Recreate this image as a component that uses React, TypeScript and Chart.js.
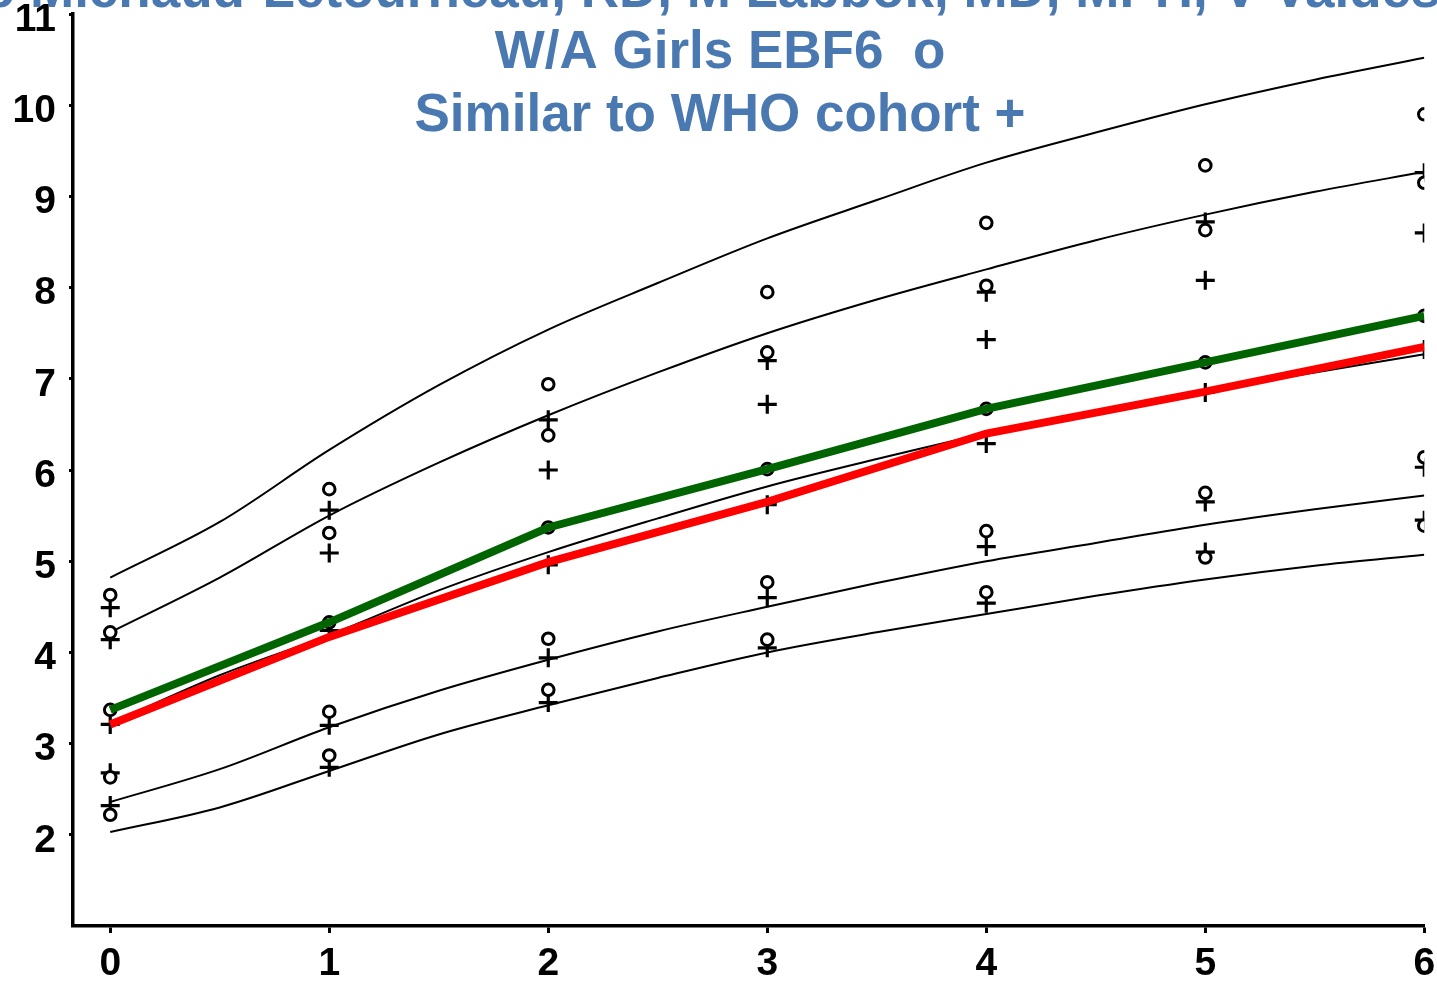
import React, { useEffect, useRef } from 'react';
import { Chart, registerables } from 'chart.js';

Chart.register(...registerables);

// ---- data (weight in kg by age in months) ----
const months = [0, 1, 2, 3, 4, 5, 6];
const curveMonths = [0, 0.5, 1, 1.5, 2, 2.5, 3, 3.5, 4, 4.5, 5, 5.5, 6];

// WHO reference curves (thin black)
const whoPlus3SD = [4.82, 5.43, 6.22, 6.93, 7.54, 8.05, 8.54, 8.96, 9.37, 9.70, 10.01, 10.28, 10.52];
const whoPlus2SD = [4.22, 4.82, 5.50, 6.08, 6.60, 7.07, 7.50, 7.87, 8.20, 8.52, 8.80, 9.05, 9.27];
const whoMedian = [3.22, 3.75, 4.19, 4.68, 5.10, 5.47, 5.82, 6.12, 6.40, 6.65, 6.87, 7.07, 7.27];
const whoMinus2SD = [2.36, 2.72, 3.18, 3.58, 3.92, 4.23, 4.50, 4.76, 5.00, 5.20, 5.40, 5.57, 5.72];
const whoMinus3SD = [2.03, 2.30, 2.70, 3.10, 3.42, 3.72, 4.00, 4.22, 4.42, 4.62, 4.80, 4.95, 5.07];

// EBF6 cohort (circles)
const ebfTop = [4.63, 5.79, 6.94, 7.95, 8.71, 9.34, 9.90];
const ebfHigh = [4.22, 5.31, 6.38, 7.29, 8.02, 8.63, 9.15];
const ebfMid = [3.37, 4.33, 5.37, 6.01, 6.67, 7.18, 7.69];
const ebfLow = [2.63, 3.35, 4.15, 4.77, 5.33, 5.75, 6.14];
const ebfBottom = [2.22, 2.87, 3.59, 4.14, 4.66, 5.04, 5.39];

// Similar-to-WHO cohort (plus signs)
const simTop = [4.49, 5.56, 6.55, 7.20, 7.95, 8.72, 9.26];
const simHigh = [4.14, 5.09, 6.00, 6.72, 7.43, 8.08, 8.60];
const simMid = [3.21, 4.24, 4.96, 5.62, 6.29, 6.85, 7.32];
const simLow = [2.68, 3.20, 3.94, 4.60, 5.16, 5.65, 6.03];
const simBottom = [2.32, 2.74, 3.45, 4.05, 4.54, 5.10, 5.45];

// medians (thick lines)
const ebfMedianLine = [3.37, 4.33, 5.37, 6.01, 6.67, 7.18, 7.69];
const simMedianLine = [3.21, 4.17, 4.99, 5.65, 6.40, 6.86, 7.35];

const xTicks = [0, 1, 2, 3, 4, 5, 6];
const yTicks = [2, 3, 4, 5, 6, 7, 8, 9, 10, 11];

const titleLine1 = 'lo Michaud-Letourneau, RD, M Labbok, MD, MPH, V Valdes';
const titleLine1Anchor = 'lo ';
const titleLine2 = 'W/A Girls EBF6  o';
const titleLine3 = 'Similar to WHO cohort +';

const toPoints = (xs: number[], ys: number[]) => ys.map((y, i) => ({ x: xs[i], y }));
const markerPoints = (rows: number[][]) =>
  rows.flatMap((row) => row.map((y, i) => ({ x: months[i], y })));

const titlePlugin = {
  id: 'overlayTitle',
  afterDraw(chart: any) {
    const ctx = chart.ctx as CanvasRenderingContext2D;
    ctx.save();
    ctx.font = 'bold 53px "Liberation Sans", Arial, sans-serif';
    ctx.fillStyle = '#4a78b0';
    ctx.textBaseline = 'alphabetic';
    ctx.textAlign = 'left';
    const w = ctx.measureText(titleLine1Anchor).width;
    ctx.fillText(titleLine1, 30 - w, 7);
    ctx.textAlign = 'center';
    const cx = 720;
    ctx.fillText(titleLine2, cx, 68);
    ctx.fillText(titleLine3, cx, 131);
    ctx.restore();
  },
};

const noScalePadding = (s: any) => {
  s.paddingTop = 0;
  s.paddingBottom = 0;
  s.paddingLeft = 0;
  s.paddingRight = 0;
};

export default function App() {
  const ref = useRef<HTMLCanvasElement | null>(null);

  useEffect(() => {
    if (!ref.current) return;
    const thin = (data: number[]) => ({
      type: 'line' as const,
      data: toPoints(curveMonths, data),
      borderColor: '#000',
      borderWidth: 2,
      pointRadius: 0,
      cubicInterpolationMode: 'monotone' as const,
      fill: false,
      order: 5,
    });
    const tickFont = { family: '"Liberation Sans", Arial, sans-serif', size: 39, weight: 'bold' as const };

    const chart = new Chart(ref.current, {
      type: 'line',
      data: {
        datasets: [
          {
            type: 'line',
            label: 'Similar to WHO median',
            data: toPoints(months, simMedianLine),
            borderColor: '#ff0000',
            borderWidth: 8,
            pointRadius: 0,
            tension: 0,
            fill: false,
            order: 0,
          },
          {
            type: 'line',
            label: 'EBF6 median',
            data: toPoints(months, ebfMedianLine),
            borderColor: '#006400',
            borderWidth: 8,
            pointRadius: 0,
            tension: 0,
            fill: false,
            order: 1,
          },
          {
            type: 'scatter',
            label: 'EBF6',
            data: markerPoints([ebfTop, ebfHigh, ebfMid, ebfLow, ebfBottom]),
            pointStyle: 'circle',
            pointRadius: 5.8,
            borderWidth: 3,
            borderColor: '#000',
            backgroundColor: '#fff',
            showLine: false,
            order: 2,
          },
          {
            type: 'scatter',
            label: 'Similar to WHO',
            data: markerPoints([simTop, simHigh, simMid, simLow, simBottom]),
            pointStyle: 'cross',
            pointRadius: 9.5,
            borderWidth: 3.2,
            borderColor: '#000',
            showLine: false,
            order: 3,
          },
          thin(whoPlus3SD),
          thin(whoPlus2SD),
          thin(whoMedian),
          thin(whoMinus2SD),
          thin(whoMinus3SD),
        ] as any,
      },
      options: {
        animation: false,
        responsive: false,
        maintainAspectRatio: false,
        devicePixelRatio: 1,
        layout: { padding: { top: 14, right: 12, left: 0, bottom: 0 } },
        plugins: { legend: { display: false }, tooltip: { enabled: false }, title: { display: false } },
        scales: {
          x: {
            type: 'linear',
            min: -0.17,
            max: 6,
            afterBuildTicks: (s: any) => {
              s.ticks = xTicks.map((v) => ({ value: v }));
            },
            afterFit: (s: any) => {
              s.height = 55;
              noScalePadding(s);
            },
            ticks: { font: tickFont, color: '#000', padding: 8, maxRotation: 0, autoSkip: false },
            grid: { drawOnChartArea: false, drawTicks: true, tickLength: 7, tickWidth: 3, tickColor: '#000' },
            border: { display: true, color: '#000', width: 3.5 },
          },
          y: {
            type: 'linear',
            min: 1,
            max: 11,
            afterBuildTicks: (s: any) => {
              s.ticks = yTicks.map((v) => ({ value: v }));
            },
            afterFit: (s: any) => {
              s.width = 73;
              noScalePadding(s);
            },
            ticks: { font: tickFont, color: '#000', padding: 13, labelOffset: 6, autoSkip: false },
            grid: { drawOnChartArea: false, drawTicks: true, tickLength: 4, tickWidth: 3, tickColor: '#000' },
            border: { display: true, color: '#000', width: 3.5 },
          },
        },
      },
      plugins: [titlePlugin],
    });
    return () => chart.destroy();
  }, []);

  return (
    <div style={{ position: 'fixed', left: 0, top: 0, width: 1437, height: 981, background: '#fff' }}>
      <canvas ref={ref} width={1437} height={981} style={{ width: 1437, height: 981, display: 'block' }} />
    </div>
  );
}
